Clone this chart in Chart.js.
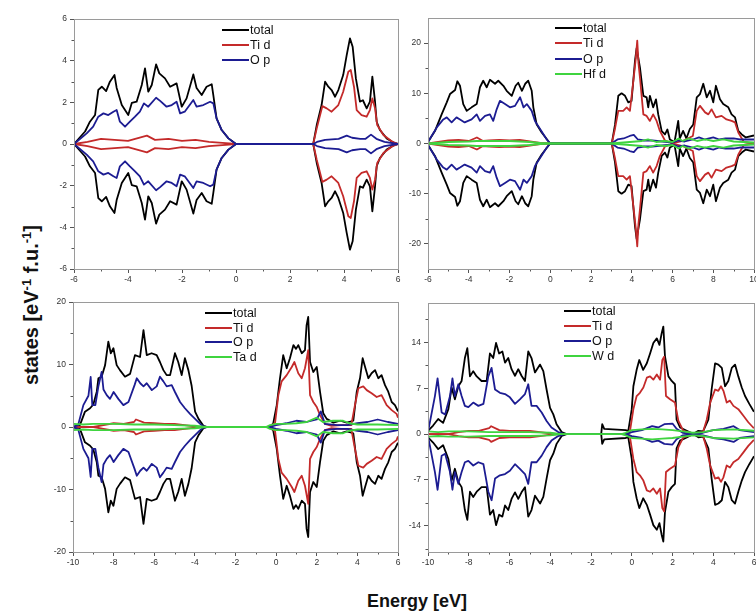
<!DOCTYPE html>
<html><head><meta charset="utf-8">
<script src="https://cdn.jsdelivr.net/npm/chart.js@4.4.1/dist/chart.umd.min.js"></script>
<style>
html,body{margin:0;padding:0;background:#fff;}
body{width:756px;height:615px;overflow:hidden;position:relative;font-family:"Liberation Sans",Arial,sans-serif;}
canvas{position:absolute;}
.lt{position:absolute;font-size:12.5px;color:#111;line-height:14px;white-space:nowrap;}
.sw{position:absolute;height:2px;}
.ytitle{position:absolute;left:31px;top:305px;transform:translate(-50%,-50%) rotate(-90deg);font-weight:bold;font-size:20px;white-space:nowrap;color:#111;}
.ytitle sup{font-size:13px;}
.xtitle{position:absolute;left:417px;top:601px;transform:translate(-50%,-50%);font-weight:bold;font-size:18px;white-space:nowrap;color:#111;}
</style></head>
<body>
<div class="ytitle">states [eV<sup>-1</sup> f.u.<sup>-1</sup>]</div>
<div class="xtitle">Energy [eV]</div>
<script>
// ---------- data: [energy (eV), DOS] for spin-up; spin-down is the mirror ----------
// Panel 1 : total / Ti d / O p
const p1Total = [[-6,0],[-5.59,0.6],[-5.41,1.07],[-5.22,1.39],[-5.1,2.6],[-4.97,2.75],[-4.81,2.54],[-4.67,2.99],[-4.5,3.31],[-4.42,2.69],[-4.23,1.87],[-4.11,1.63],[-3.99,1.39],[-3.86,1.97],[-3.68,2.03],[-3.49,2.83],[-3.37,3.63],[-3.25,2.51],[-3.12,2.83],[-2.96,3.82],[-2.84,3.39],[-2.63,3.15],[-2.44,2.75],[-2.2,2.91],[-2.01,1.79],[-1.83,2.19],[-1.58,3.34],[-1.46,2.69],[-1.27,2.35],[-1.09,2.75],[-0.9,2.87],[-0.84,2.35],[-0.72,1.23],[-0.53,0.67],[-0.28,0.27],[0,0],[2.86,0],[2.99,0.91],[3.17,1.87],[3.3,2.99],[3.42,2.75],[3.54,2.59],[3.67,2.27],[3.79,2.59],[3.97,3.31],[4.1,4.27],[4.22,5.07],[4.32,4.67],[4.44,3.15],[4.59,2.03],[4.7,2.1],[4.84,1.71],[4.96,2.03],[5.05,3.23],[5.15,2.03],[5.21,1.07],[5.33,0.67],[5.58,0.27],[5.85,0.06],[6,0]];
const p1TiD = [[-6,0],[-5.5,0.1],[-5,0.25],[-4.5,0.2],[-4,0.15],[-3.3,0.4],[-3,0.2],[-2.5,0.25],[-2,0.15],[-1.5,0.2],[-1,0.1],[-0.5,0.05],[0,0],[2.86,0],[2.99,0.75],[3.2,1.82],[3.36,1.71],[3.54,1.55],[3.79,1.87],[3.97,2.51],[4.16,3.47],[4.25,3.55],[4.37,2.75],[4.47,1.63],[4.65,1.39],[4.84,1.31],[4.96,1.63],[5.05,2.19],[5.15,1.71],[5.23,0.91],[5.46,0.43],[5.8,0.1],[6,0]];
const p1OP = [[-6,0],[-5.53,0.51],[-5.29,0.83],[-5.1,1.31],[-4.91,1.47],[-4.73,1.39],[-4.54,1.55],[-4.42,1.63],[-4.3,1.07],[-4.11,0.83],[-3.93,1.07],[-3.74,1.31],[-3.56,1.55],[-3.41,1.95],[-3.25,1.79],[-2.96,2.22],[-2.81,2.07],[-2.57,1.79],[-2.38,1.87],[-2.2,2.03],[-2.07,1.47],[-1.9,1.55],[-1.58,2.11],[-1.46,1.79],[-1.21,1.87],[-0.96,2.03],[-0.84,1.95],[-0.72,1.23],[-0.53,0.67],[-0.28,0.27],[0,0],[2.86,0],[3.0,0.1],[3.3,0.2],[3.8,0.25],[4.1,0.4],[4.3,0.3],[4.6,0.25],[4.8,0.25],[5.0,0.45],[5.2,0.25],[5.5,0.1],[6,0]];
const p1XTicks = [-6,-4,-2,0,2,4,6];
const p1YTicks = [-6,-4,-2,0,2,4,6];

// Panel 2 : total / Ti d / O p / Hf d
const p2Total = [[-6,0.3],[-5.66,2.47],[-5.33,5.8],[-5.08,8.2],[-4.92,9.85],[-4.67,10.65],[-4.56,12.4],[-4.43,11.5],[-4.27,7.85],[-4.1,6.5],[-3.86,7.2],[-3.61,7.85],[-3.45,11.2],[-3.29,12.5],[-3.12,11.2],[-2.96,12.7],[-2.71,11.9],[-2.55,12.5],[-2.3,11.5],[-2.14,10.5],[-1.89,9.5],[-1.7,11.5],[-1.57,12.1],[-1.39,10.5],[-1.23,11.9],[-1.08,12.5],[-0.91,10.5],[-0.83,7.2],[-0.67,3.85],[-0.42,2.2],[-0.1,0.5],[0,0],[3.02,0],[3.18,3.8],[3.34,9.5],[3.5,10.0],[3.67,9.5],[3.83,8.2],[3.99,8.5],[4.16,16.5],[4.24,19],[4.4,15.2],[4.57,9.5],[4.73,9.2],[4.81,7.2],[4.89,9.5],[5.05,7.2],[5.19,8.8],[5.3,5.8],[5.47,2.47],[5.63,1.8],[5.75,2.8],[5.87,0.8],[6.1,0.3],[6.28,4.5],[6.36,1.0],[6.52,2.5],[6.68,1.0],[6.85,2.9],[7.02,3.8],[7.19,9.2],[7.35,9.85],[7.51,11.9],[7.68,9.2],[7.84,10.5],[8.0,8.2],[8.13,11.5],[8.33,8.8],[8.49,7.85],[8.74,7.2],[8.9,5.8],[9.07,5.2],[9.15,3.8],[9.23,2.5],[9.4,1.8],[9.6,1.2],[10,1.6]];
const p2TiD = [[-6,0],[-5.5,0.3],[-5,0.6],[-4.5,0.7],[-4,0.5],[-3.6,1.2],[-3.3,0.5],[-3,0.6],[-2.5,0.7],[-2,0.6],[-1.5,0.7],[-1,0.4],[-0.5,0.1],[0,0],[3.02,0],[3.18,3.0],[3.34,6.5],[3.58,6.5],[3.75,7.2],[3.91,6.5],[4.08,12.5],[4.2,17],[4.27,20.5],[4.33,16],[4.4,13.2],[4.57,5.8],[4.73,5.5],[4.89,4.5],[5.05,5.8],[5.22,4.5],[5.38,2.5],[5.63,0.6],[5.9,0.2],[6.0,0],[6.5,0.5],[7.0,1.5],[7.19,6.5],[7.35,7.5],[7.6,6.2],[7.76,5.8],[7.92,6.8],[8.13,5.2],[8.41,5.5],[8.65,4.8],[8.9,4.5],[9.07,4.2],[9.23,2.2],[9.5,0.3],[10,0]];
const p2OP = [[-6,0.3],[-5.57,3.2],[-5.25,4.8],[-5.08,5.2],[-4.84,4.2],[-4.6,5.2],[-4.43,4.8],[-4.2,4.2],[-3.86,4.8],[-3.61,5.8],[-3.45,4.5],[-3.2,5.5],[-2.96,5.8],[-2.8,4.5],[-2.63,6.8],[-2.47,8.5],[-2.22,7.85],[-1.98,7.2],[-1.73,7.5],[-1.48,9.2],[-1.31,7.2],[-1.15,7.85],[-0.91,6.5],[-0.75,4.5],[-0.5,2.9],[-0.17,0.8],[0,0],[3.0,0],[3.3,0.8],[3.6,1.0],[3.9,1.5],[4.1,1.7],[4.3,0.8],[4.6,0.6],[5.0,0.6],[5.5,0.4],[6.0,0.2],[6.3,0.6],[6.6,0.4],[7.0,0.8],[7.3,1.2],[7.6,0.8],[8.0,1.2],[8.3,0.8],[8.6,1.0],[9.0,1.0],[9.3,0.8],[9.6,0.8],[10,0.8]];
const p2HfD = [[-6,0],[-5,0.3],[-4,0.4],[-3.6,0.5],[-3,0.5],[-2,0.5],[-1,0.3],[-0.5,0.1],[0,0],[3,0],[4.5,0.5],[4.8,0.8],[5.2,0.3],[5.6,0.5],[6.0,0.3],[6.3,1.0],[6.5,0.5],[6.8,1.0],[7.2,0.5],[7.6,0.8],[8.0,0.5],[8.5,0.8],[9,0.4],[9.5,0.3],[10,0.2]];
const p2XTicks = [-6,-4,-2,0,2,4,6,8,10];
const p2YTicks = [-20,-10,0,10,20];

// Panel 3 : total / Ti d / O p / Ta d
const p3Total = [[-10,0],[-9.66,0.3],[-9.41,2.45],[-9.16,3.0],[-9.0,3.6],[-8.83,5.65],[-8.75,7.8],[-8.59,8.05],[-8.42,9.9],[-8.26,13.65],[-8.14,11.8],[-8.01,12.6],[-7.85,9.9],[-7.69,9.1],[-7.44,8.05],[-7.19,8.5],[-6.95,11.5],[-6.7,11.2],[-6.53,15.5],[-6.37,11.5],[-6.13,11.8],[-5.88,11.5],[-5.72,10.4],[-5.55,9.1],[-5.39,8.3],[-5.22,8.3],[-4.98,11.8],[-4.82,10.4],[-4.65,8.3],[-4.49,11.0],[-4.32,9.1],[-4.16,6.6],[-3.99,2.45],[-3.82,1.3],[-3.58,0.2],[-3.4,0],[-0.3,0],[-0.14,0.6],[0.03,3.5],[0.19,7.8],[0.35,11.5],[0.52,9.4],[0.68,11.0],[0.85,13.1],[0.98,12.5],[1.09,13.1],[1.26,11.8],[1.42,12.3],[1.5,16.3],[1.58,17.6],[1.67,10.4],[1.83,8.8],[2.0,9.6],[2.16,5.65],[2.32,2.2],[2.49,1.3],[2.82,0.7],[3.15,1.0],[3.48,0.7],[3.8,1.0],[3.97,5.65],[4.13,7.8],[4.26,11.0],[4.38,9.6],[4.54,7.8],[4.7,8.6],[4.87,9.1],[5.03,7.8],[5.19,8.3],[5.36,6.7],[5.52,5.65],[5.69,4.0],[5.85,3.5],[6.0,2.5]];
const p3TiD = [[-10,0],[-9,0],[-8.5,0.3],[-8,0.6],[-7.5,0.5],[-7,0.8],[-6.9,1.2],[-6.5,0.7],[-6,0.6],[-5.5,0.5],[-5,0.5],[-4.5,0.3],[-4,0.1],[-3.5,0],[-0.3,0],[-0.05,0.7],[0.11,5.1],[0.27,7.3],[0.52,8.3],[0.77,9.6],[0.9,10.4],[1.09,8.6],[1.26,7.8],[1.42,9.4],[1.58,12.3],[1.67,5.1],[1.83,4.0],[2.0,3.2],[2.16,1.9],[2.4,0.5],[2.7,0.2],[3.2,0.3],[3.7,0.3],[3.88,3.5],[4.05,6.2],[4.29,6.5],[4.46,5.9],[4.7,5.4],[4.95,4.8],[5.19,5.1],[5.44,3.5],[5.69,2.7],[5.93,2.1],[6,1.5]];
const p3OP = [[-10,0],[-9.75,0.3],[-9.49,3.5],[-9.24,5.0],[-9.13,8.0],[-9.05,3.5],[-8.9,3.5],[-8.75,6.5],[-8.59,8.8],[-8.5,6],[-8.34,5.1],[-8.18,4.5],[-8.0,5.6],[-7.77,4.5],[-7.52,3.5],[-7.27,4.0],[-6.97,6.7],[-6.86,7.8],[-6.69,7.0],[-6.53,6.5],[-6.37,7.0],[-6.12,5.9],[-5.88,6.5],[-5.72,8.05],[-5.55,7.3],[-5.39,6.5],[-5.14,6.7],[-4.98,5.6],[-4.73,4.0],[-4.49,3.0],[-4.24,2.1],[-3.99,1.3],[-3.74,0.5],[-3.58,0.1],[-3.4,0],[-0.3,0],[0,0.3],[0.5,0.6],[1.0,1.0],[1.5,0.8],[2.0,1.2],[2.2,2.5],[2.4,0.5],[3,0.3],[3.5,0.3],[4.0,0.6],[4.5,0.8],[5,1.2],[5.5,0.8],[6,0.5]];
const p3TaD = [[-10,0.5],[-9.5,0.4],[-9,0.5],[-8,0.5],[-7,0.4],[-6,0.4],[-5,0.3],[-4,0.2],[-3.5,0],[-0.5,0],[-0.3,0.3],[0,0.5],[0.5,0.5],[1.0,0.6],[1.5,0.8],[2.0,1.5],[2.3,0.8],[2.8,1.0],[3.3,1.0],[3.6,0.6],[4,0.4],[5,0.4],[6,0.3]];
const p3XTicks = [-10,-8,-6,-4,-2,0,2,4,6];
const p3YTicks = [-20,-10,0,10,20];

// Panel 4 : total / Ti d / O p / W d
const p4Total = [[-10,0.5],[-9.75,1.3],[-9.5,2.3],[-9.26,1.7],[-9.0,3.8],[-8.84,7.1],[-8.68,5.3],[-8.51,7.3],[-8.35,8.1],[-8.19,11.6],[-8.07,13.1],[-7.94,8.8],[-7.78,9.6],[-7.61,8.8],[-7.37,8.1],[-7.12,8.1],[-6.96,12.3],[-6.8,11.6],[-6.66,13.9],[-6.51,12.3],[-6.35,12.6],[-6.22,10.9],[-6.06,11.6],[-5.9,9.9],[-5.73,8.9],[-5.57,9.9],[-5.41,8.9],[-5.24,8.1],[-5.08,12.6],[-4.92,11.6],[-4.75,9.4],[-4.5,10.6],[-4.34,9.6],[-4.18,6.8],[-4.01,4.0],[-3.85,3.0],[-3.69,1.5],[-3.44,0.3],[-3.2,0],[-1.5,0],[-1.45,1.5],[-1.35,0.8],[-0.3,0.6],[-0.17,0.5],[0.0,3.8],[0.08,7.3],[0.24,9.8],[0.37,11.3],[0.56,9.8],[0.74,10.8],[0.9,12.3],[1.06,13.9],[1.23,14.6],[1.36,13.6],[1.47,15.4],[1.55,16.4],[1.63,11.9],[1.8,8.8],[1.96,8.1],[2.12,7.6],[2.2,2.2],[2.37,1.0],[2.7,0.5],[3.02,0],[3.27,0.5],[3.5,0.4],[3.76,2.2],[3.92,6.8],[4.09,10.8],[4.25,10.6],[4.42,10.1],[4.58,7.3],[4.74,8.1],[4.91,10.1],[5.07,10.6],[5.23,8.8],[5.4,7.1],[5.56,5.8],[5.77,4.6],[5.96,3.6],[6,3.4]];
const p4TiD = [[-10,0],[-9,0],[-8.5,0.3],[-8,0.5],[-7.5,0.5],[-7,0.9],[-6.9,1.2],[-6.5,0.6],[-6,0.5],[-5.5,0.5],[-5,0.5],[-4.5,0.3],[-4,0.1],[-3.5,0],[-0.3,0],[-0.1,0.2],[0.08,3.8],[0.24,5.8],[0.4,6.3],[0.57,7.1],[0.74,8.6],[0.9,8.8],[1.06,8.3],[1.23,9.1],[1.39,8.3],[1.5,11.3],[1.59,11.8],[1.68,5.8],[1.88,5.3],[2.12,4.8],[2.29,2.0],[2.53,0.5],[3.0,0.1],[3.5,0.3],[3.68,2.2],[3.85,4.8],[4.09,6.8],[4.25,6.6],[4.38,7.3],[4.5,6.6],[4.66,4.8],[4.82,5.1],[4.99,4.3],[5.23,3.8],[5.48,2.8],[5.72,1.8],[5.96,1.0],[6,0.9]];
const p4OP = [[-10,0.3],[-9.66,5.8],[-9.53,8.5],[-9.33,3.3],[-9.16,3.0],[-8.92,5.8],[-8.8,8.5],[-8.68,5.8],[-8.51,7.6],[-8.35,5.8],[-8.19,4.3],[-8.02,4.1],[-7.78,4.8],[-7.53,4.3],[-7.28,4.6],[-7.04,8.8],[-6.88,10.1],[-6.71,6.8],[-6.47,6.3],[-6.22,6.1],[-5.98,5.6],[-5.73,4.6],[-5.49,5.3],[-5.24,6.1],[-5.08,7.6],[-4.92,4.3],[-4.67,4.3],[-4.42,3.3],[-4.18,2.0],[-3.94,1.0],[-3.61,0.3],[-3.3,0],[-0.3,0],[0,0.3],[0.5,0.6],[1.0,1.2],[1.3,1.0],[1.6,1.5],[2.0,1.6],[2.2,0.8],[2.5,0.2],[3.0,0],[3.5,0.2],[4,0.6],[4.5,0.8],[5.0,1.2],[5.3,0.6],[6,0.3]];
const p4WD = [[-10,0.4],[-9.5,0.3],[-9,0.4],[-8,0.4],[-7,0.3],[-6,0.3],[-5,0.3],[-4,0.2],[-3.5,0],[-0.5,0],[-0.3,0.2],[0,0.6],[0.5,0.7],[1,0.8],[1.5,0.7],[2.0,0.6],[2.5,0.4],[3,0.2],[3.5,0.3],[4,0.6],[5,0.7],[6,0.5]];
const p4XTicks = [-10,-8,-6,-4,-2,0,2,4,6];
const p4YTicks = [-14,-7,0,7,14];

const COL = {total:'#000000', ti:'#c42a2a', o:'#1c1c92', m:'#3fd43f'};

// ---------- drawing ----------
const AX_W = 40, AX_H = 22, PAD_T = 6, LW = 1.8;

function minorsOf(ticks, lo, hi){
  const out = [];
  const step = ticks[1]-ticks[0];
  const all = [ticks[0]-step, ...ticks, ticks[ticks.length-1]+step];
  for (let i=0;i<all.length-1;i++){ const m=(all[i]+all[i+1])/2; if(m>lo && m<hi) out.push(m); }
  return out;
}

const framePlugin = {
  id:'frame',
  afterDraw(chart, args, opts){
    const {ctx, chartArea:a, scales} = chart;
    ctx.save();
    ctx.strokeStyle = '#555'; ctx.lineWidth = 1;
    (opts.xMinor||[]).forEach(v=>{ const px=Math.round(scales.x.getPixelForValue(v))+0.5; ctx.beginPath(); ctx.moveTo(px,a.bottom); ctx.lineTo(px,a.bottom+2.5); ctx.stroke(); });
    (opts.yMinor||[]).forEach(v=>{ const py=Math.round(scales.y.getPixelForValue(v))+0.5; ctx.beginPath(); ctx.moveTo(a.left,py); ctx.lineTo(a.left-2.5,py); ctx.stroke(); });
    ctx.strokeStyle = '#9a9a9a';
    ctx.strokeRect(Math.round(a.left)+0.5, Math.round(a.top)+0.5, Math.round(a.right-a.left), Math.round(a.bottom-a.top));
    ctx.restore();
  }
};

function panel(area, xr, yr, xTicks, yTicks, series, padR){
  const cv = document.createElement('canvas');
  const w = area.r-area.l+AX_W+padR, h = area.b-area.t+PAD_T+AX_H;
  cv.width=w; cv.height=h;
  cv.style.left=(area.l-AX_W)+'px'; cv.style.top=(area.t-PAD_T)+'px';
  cv.style.width=w+'px'; cv.style.height=h+'px';
  document.body.appendChild(cv);
  const datasets=[];
  series.slice().reverse().forEach(s=>{
    datasets.push({data:s.data.map(p=>({x:p[0],y:p[1]})), borderColor:s.color, borderWidth:LW});
    datasets.push({data:s.data.map(p=>({x:p[0],y:-p[1]})), borderColor:s.color, borderWidth:LW});
  });
  const tickFont = {size:8.5, family:'"Liberation Sans", Arial, sans-serif'};
  new Chart(cv, {
    type:'line',
    data:{datasets},
    plugins:[framePlugin],
    options:{
      responsive:false, animation:false, devicePixelRatio:1,
      layout:{padding:{left:0,right:padR,top:PAD_T,bottom:0}},
      elements:{point:{radius:0,hoverRadius:0}, line:{tension:0, fill:false, borderJoinStyle:'round'}},
      events:[],
      plugins:{legend:{display:false}, tooltip:{enabled:false},
        frame:{xMinor:minorsOf(xTicks,xr[0],xr[1]), yMinor:minorsOf(yTicks,yr[0],yr[1])}},
      scales:{
        x:{type:'linear', min:xr[0], max:xr[1],
          afterBuildTicks:s=>{ s.ticks = xTicks.map(v=>({value:v})); },
          afterFit:s=>{ s.height=AX_H; s.paddingLeft=0; s.paddingRight=0; },
          grid:{drawOnChartArea:false, drawTicks:true, tickLength:4, color:'#555'},
          border:{display:false},
          ticks:{font:tickFont, color:'#333', padding:2, maxRotation:0, autoSkip:false, callback:v=>String(v)}},
        y:{type:'linear', min:yr[0], max:yr[1],
          afterBuildTicks:s=>{ s.ticks = yTicks.map(v=>({value:v})); },
          afterFit:s=>{ s.width=AX_W; s.paddingTop=0; s.paddingBottom=0; },
          grid:{drawOnChartArea:false, drawTicks:true, tickLength:4, color:'#555'},
          border:{display:false},
          ticks:{font:tickFont, color:'#333', padding:3, autoSkip:false, callback:v=>String(v)}}
      }
    }
  });
}

function legend(x, y0, dy, items){
  items.forEach((it,i)=>{
    const y = y0 + i*dy;
    const sw = document.createElement('div'); sw.className='sw';
    sw.style.left=x+'px'; sw.style.top=(y-1)+'px'; sw.style.width='27px'; sw.style.background=it.color;
    document.body.appendChild(sw);
    const t = document.createElement('div'); t.className='lt';
    t.style.left=(x+28)+'px'; t.style.top=(y-7)+'px'; t.textContent=it.label;
    document.body.appendChild(t);
  });
}

panel({l:74,r:398,t:19,b:269}, [-6,6], [-6,6], p1XTicks, p1YTicks,
  [{data:p1Total,color:COL.total},{data:p1TiD,color:COL.ti},{data:p1OP,color:COL.o}], 8);
panel({l:428,r:754,t:18,b:269}, [-6,10], [-25,25], p2XTicks, p2YTicks,
  [{data:p2Total,color:COL.total},{data:p2TiD,color:COL.ti},{data:p2OP,color:COL.o},{data:p2HfD,color:COL.m}], 2);
panel({l:73,r:398,t:302,b:552}, [-10,6], [-20,20], p3XTicks, p3YTicks,
  [{data:p3Total,color:COL.total},{data:p3TiD,color:COL.ti},{data:p3OP,color:COL.o},{data:p3TaD,color:COL.m}], 8);
panel({l:428,r:754,t:303,b:552}, [-10,6], [-18,20], p4XTicks, p4YTicks,
  [{data:p4Total,color:COL.total},{data:p4TiD,color:COL.ti},{data:p4OP,color:COL.o},{data:p4WD,color:COL.m}], 2);

legend(222, 30, 15, [{label:'total',color:COL.total},{label:'Ti d',color:COL.ti},{label:'O p',color:COL.o}]);
legend(555, 28, 15.3, [{label:'total',color:COL.total},{label:'Ti d',color:COL.ti},{label:'O p',color:COL.o},{label:'Hf d',color:COL.m}]);
legend(205, 313, 14.7, [{label:'total',color:COL.total},{label:'Ti d',color:COL.ti},{label:'O p',color:COL.o},{label:'Ta d',color:COL.m}]);
legend(564, 311, 15, [{label:'total',color:COL.total},{label:'Ti d',color:COL.ti},{label:'O p',color:COL.o},{label:'W d',color:COL.m}]);
</script>
</body></html>
